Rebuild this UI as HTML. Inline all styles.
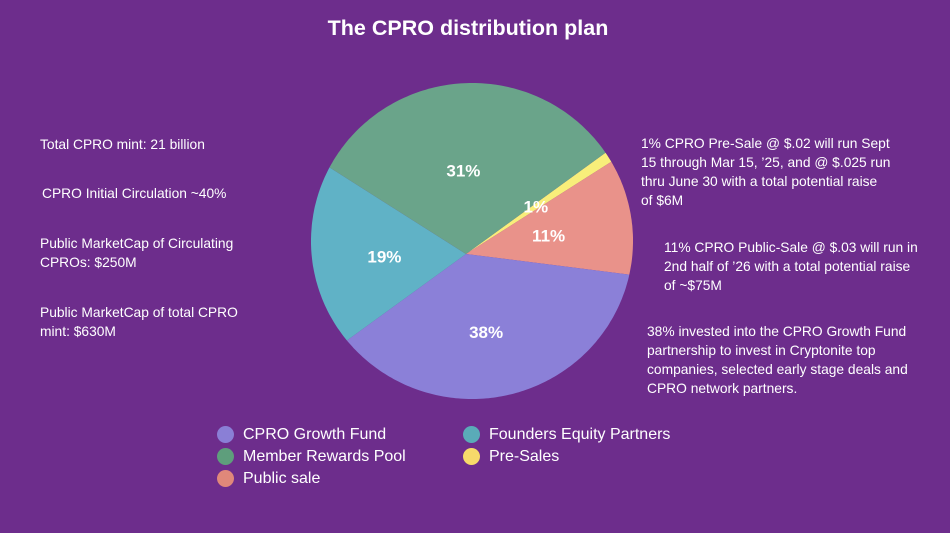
<!DOCTYPE html>
<html><head><meta charset="utf-8">
<style>
html,body{margin:0;padding:0;}
body{width:950px;height:533px;background:#6d2d8c;position:relative;overflow:hidden;font-family:"Liberation Sans",sans-serif;color:#fff;}
.t{position:absolute;font-size:13.8px;line-height:19px;white-space:nowrap;}
.lg{position:absolute;font-size:16px;line-height:20px;white-space:nowrap;}
.dot{position:absolute;width:17px;height:17px;border-radius:50%;}
</style></head><body>
<div style="position:absolute;left:0;width:936px;top:16px;text-align:center;font-size:21.5px;font-weight:bold;">The CPRO distribution plan</div>

<div class="t" style="left:40px;top:135px">Total CPRO mint: 21 billion</div>
<div class="t" style="left:42px;top:184px">CPRO Initial Circulation ~40%</div>
<div class="t" style="left:40px;top:234px">Public MarketCap of Circulating<br>CPROs: $250M</div>
<div class="t" style="left:40px;top:303px">Public MarketCap of total CPRO<br>mint: $630M</div>

<div class="t" style="left:641px;top:134px">1% CPRO Pre-Sale @ $.02 will run Sept<br>15 through Mar 15, ’25, and @ $.025 run<br>thru June 30 with a total potential raise<br>of $6M</div>
<div class="t" style="left:664px;top:238px">11% CPRO Public-Sale @ $.03 will run in<br>2nd half of ’26 with a total potential raise<br>of ~$75M</div>
<div class="t" style="left:647px;top:322px">38% invested into the CPRO Growth Fund<br>partnership to invest in Cryptonite top<br>companies, selected early stage deals and<br>CPRO network partners.</div>

<svg id="pie" width="950" height="533" style="position:absolute;left:0;top:0"></svg>

<div class="dot" style="left:217px;top:426px;background:#8a7fd6"></div>
<div class="lg" style="left:243px;top:425px">CPRO Growth Fund</div>
<div class="dot" style="left:217px;top:448px;background:#5e9e7c"></div>
<div class="lg" style="left:243px;top:447px">Member Rewards Pool</div>
<div class="dot" style="left:217px;top:470px;background:#e0887a"></div>
<div class="lg" style="left:243px;top:469px">Public sale</div>
<div class="dot" style="left:463px;top:426px;background:#5aabb8"></div>
<div class="lg" style="left:489px;top:425px">Founders Equity Partners</div>
<div class="dot" style="left:463px;top:448px;background:#f7da6a"></div>
<div class="lg" style="left:489px;top:447px">Pre-Sales</div>

<script>
const categories = ["Pre-Sales","Public sale","CPRO Growth Fund","Founders Equity Partners","Member Rewards Pool"];
const values = [1, 11, 38, 19, 31];
const labels = ["1%","11%","38%","19%","31%"];
const colors = ["#f8ee7a","#e9928a","#8b80d8","#60b2c6","#6aa48a"];
const slugs = ["presales","public","growth","founders","member"];
const labelFrac = [0.49, 0.5, 0.55, 0.53, 0.49];

const svg = document.getElementById('pie');
const NS = 'http://www.w3.org/2000/svg';
const ax = 466, ay = 254;
const ecx = 472, ecy = 241, rx = 161, ry = 158;
const startDeg = -36;
const total = values.reduce((a,b)=>a+b,0);

function rim(deg){
  const a = deg*Math.PI/180, dx = Math.cos(a), dy = Math.sin(a);
  const px=(ax-ecx)/rx, py=(ay-ecy)/ry, qx=dx/rx, qy=dy/ry;
  const A=qx*qx+qy*qy, B=2*(px*qx+py*qy), C=px*px+py*py-1;
  const t=(-B+Math.sqrt(B*B-4*A*C))/(2*A);
  return [ax+t*dx, ay+t*dy];
}
let cur = startDeg;
values.forEach((v,i)=>{
  const span = v/total*360;
  let d = `M${ax},${ay}`;
  const n = Math.max(4, Math.ceil(span));
  for(let k=0;k<=n;k++){ const p = rim(cur+span*k/n); d += ` L${p[0].toFixed(1)},${p[1].toFixed(1)}`; }
  d += 'Z';
  const path = document.createElementNS(NS,'path');
  path.setAttribute('d', d);
  path.setAttribute('fill', colors[i]);
  
  
  svg.appendChild(path);
  cur += span;
});
cur = startDeg;
values.forEach((v,i)=>{
  const span = v/total*360;
  const mid = cur + span/2;
  const p = rim(mid);
  const f = labelFrac[i];
  const x = ax + (p[0]-ax)*f, y = ay + (p[1]-ay)*f;
  const t = document.createElementNS(NS,'text');
  t.setAttribute('x', x.toFixed(1));
  t.setAttribute('y', (y+6).toFixed(1));
  t.setAttribute('text-anchor','middle');
  t.setAttribute('fill','#fff');
  t.setAttribute('font-size','17');
  t.setAttribute('font-weight','bold');
  t.setAttribute('font-family','Liberation Sans, sans-serif');
  t.textContent = labels[i];
  
  
  svg.appendChild(t);
  cur += span;
});
</script>
</body></html>
